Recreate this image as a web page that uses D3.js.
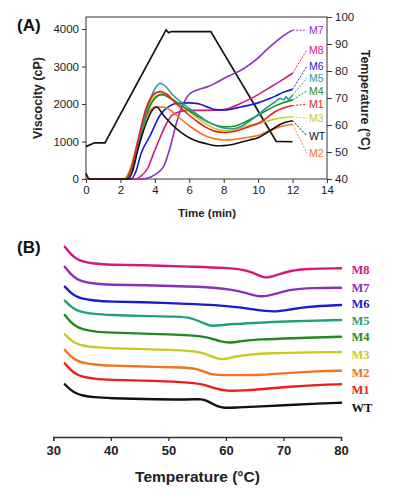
<!DOCTYPE html>
<html>
<head>
<meta charset="utf-8">
<script src="https://cdn.jsdelivr.net/npm/d3@7"></script>
<style>
  body { margin: 0; background: #fff; }
  svg { display: block; font-family: "Liberation Sans", Arial, sans-serif; }
</style>
</head>
<body>
<svg id="chart" width="397" height="493"></svg>
<script>
// ---- panel A: RVA pasting profiles (time in min, viscosity in cP) ----
const names = ["WT", "M1", "M2", "M3", "M4", "M5", "M6", "M7", "M8"];
const colorsA = ["#111111", "#ee1c1c", "#f47321", "#c9c923", "#1f8a1f", "#2b9ba3", "#1a1ad0", "#8a2fbe", "#d4197a"];
const colorsB = ["#111111", "#ee1c1c", "#f47321", "#c9c923", "#1f8a1f", "#22a07c", "#1a1ad0", "#8a2fbe", "#d4197a"];

const wtVisc = [[0,150],[0.2,0],[2.4,0],[2.7,200],[3,750],[3.5,1500],[3.8,1800],[4.1,1920],[4.5,1700],[5,1450],[5.5,1250],[6,1100],[6.5,1000],[7,940],[7.6,885],[8,890],[8.5,920],[9,980],[9.5,1040],[10,1100],[10.5,1230],[11,1380],[11.5,1500],[12,1555]];
const m1Visc = [[0,0],[2.3,0],[2.6,250],[3,1000],[3.5,1900],[4,2280],[4.3,2330],[4.7,2260],[5,2120],[5.5,1900],[6,1700],[6.5,1520],[7,1370],[7.5,1270],[8,1240],[8.5,1260],[9,1320],[9.5,1400],[10,1480],[10.5,1630],[11,1800],[11.5,1900],[12,1960]];
const m2Visc = [[0,0],[2.3,0],[2.6,220],[3,900],[3.5,1650],[4,1920],[4.5,1920],[5,1800],[5.5,1600],[6,1420],[6.5,1260],[7,1140],[7.5,1070],[8,1040],[8.5,1050],[9,1080],[9.5,1120],[10,1160],[10.5,1260],[11,1350],[11.5,1420],[12,1460]];
const m3Visc = [[0,0],[2.2,0],[2.5,200],[3,950],[3.5,1800],[4,2200],[4.5,2270],[5,2150],[5.5,1970],[6,1790],[6.5,1610],[7,1460],[7.5,1340],[8,1290],[8.5,1300],[9,1360],[9.5,1430],[10,1480],[10.5,1540],[11,1600],[11.5,1640],[12,1660]];
const m4Visc = [[0,0],[2.3,0],[2.6,200],[3,850],[3.5,1700],[4,2150],[4.4,2250],[5,2120],[5.5,1970],[6,1820],[6.5,1670],[7,1540],[7.5,1440],[8,1395],[8.5,1400],[9,1470],[9.5,1580],[10,1700],[10.5,1830],[11,1950],[11.5,2040],[12,2110]];
const m5Visc = [[0,0],[2.3,0],[2.6,200],[3,900],[3.5,1800],[4,2400],[4.3,2550],[4.6,2480],[5,2260],[5.5,2060],[6,1880],[6.5,1710],[7,1550],[7.5,1430],[8,1360],[8.5,1340],[9,1400],[9.5,1540],[10,1720],[10.5,1900],[11,2060],[11.3,2150],[11.5,2110],[11.6,2190],[11.75,2130],[12,2240]];
const m6Visc = [[0,0],[2.6,0],[2.9,200],[3.2,680],[3.7,1130],[4.3,1700],[4.8,1930],[5.3,2020],[6,2030],[6.5,2010],[7,1930],[7.5,1850],[8,1840],[8.5,1870],[9,1920],[9.5,1970],[10,2030],[10.5,2120],[11,2210],[11.5,2320],[12,2390]];
const m7Visc = [[0,0],[3.2,0],[3.8,60],[4.2,180],[4.5,330],[4.9,860],[5.3,1570],[5.7,2050],[6,2260],[6.5,2380],[7,2450],[7.5,2550],[8,2680],[8.5,2790],[9,2900],[9.5,3050],[10,3230],[10.5,3450],[11,3650],[11.5,3830],[12,3970]];
const m8Visc = [[0,0],[2.8,0],[3.2,80],[3.6,300],[3.9,650],[4.3,1100],[4.7,1500],[5,1700],[5.5,1800],[6,1830],[7,1830],[8,1850],[8.5,1920],[9,2020],[9.5,2130],[10,2250],[10.5,2390],[11,2530],[11.5,2670],[12,2820]];
const viscSeries = [wtVisc, m1Visc, m2Visc, m3Visc, m4Visc, m5Visc, m6Visc, m7Visc, m8Visc];

// temperature program (right axis, degC)
const tempProfile = [[0,52],[0.5,53.4],[1.1,53.4],[4.65,95.2],[4.8,94.2],[4.95,94.6],[7.25,94.6],[11.05,53.9],[12,53.8]];

// where the end labels sit, in viscosity units
const labelViscA = [1150, 1990, 690, 1620, 2350, 2690, 3010, 3970, 3440];

const timeTicks = [0, 2, 4, 6, 8, 10, 12, 14];
const viscTicks = [0, 1000, 2000, 3000, 4000];
const tempTicks = [40, 50, 60, 70, 80, 90, 100];

// ---- panel B: DSC thermograms (temperature degC, heat flow a.u., stacked) ----
const wtDsc = [[32,52.7],[33,47],[34,43.5],[35,41.5],[37,39.7],[40,38.7],[45,38],[54,37.3],[55.8,38.2],[57,35.5],[58.5,30.5],[59.6,28.8],[62,29.6],[66,30.5],[71,32],[76,33.5],[80,34.3]];
const m1Dsc = [[32,73.7],[33,67],[34,62.7],[35,60.3],[37,58.2],[40,57],[45,56.5],[53,55],[56,53],[58,48.5],[60.2,45.8],[63,46.5],[67,48.2],[71,50.3],[76,52],[80,52.7]];
const m2Dsc = [[32,87],[33,80.7],[34,76.6],[35,74.4],[37,72.4],[40,71.3],[45,70.5],[53,69.5],[55,68.5],[57.3,62.2],[60,61.8],[66.5,61.8],[71,64.3],[76,65.8],[80,66.3]];
const m3Dsc = [[32,102.7],[33,97],[34,93.5],[35,91.5],[37,89.7],[40,88.7],[45,88],[54,86.5],[56,84.5],[58,79],[59.5,77],[61.5,80.5],[64,82.5],[68,83.8],[72,84.4],[80,85]];
const m4Dsc = [[32,122],[33,115],[34,110.3],[35,107.8],[37,105.5],[40,104.3],[45,103.5],[54,102],[57,99.8],[59,95.5],[60.6,93.8],[63,96.3],[66,97.7],[71,98.7],[80,100.3]];
const m5Dsc = [[32,136.3],[33,130.6],[34,126.9],[35,124.9],[37,123],[40,122],[45,121],[52,120.5],[54,119],[55.5,115.5],[57.3,110.5],[59,111.7],[61,113],[66,114.3],[71,115.8],[80,117]];
const m6Dsc = [[32,150.3],[33,144.3],[34,140.4],[35,138.3],[37,136.3],[40,135.3],[45,135],[54,133],[58,132],[62,130],[65,127.3],[68.3,124.8],[71,127.3],[74,130.3],[80,132]];
const m7Dsc = [[32,170.3],[33,163],[34,158.2],[35,155.6],[37,153.3],[40,152],[45,152],[54,150.3],[58,149.5],[61,147.5],[64,143.3],[66.2,139.5],[68.5,142.8],[71.2,147.7],[75,149],[80,149.3]];
const m8Dsc = [[32,190.3],[33,183],[34,178.2],[35,175.6],[37,173.3],[40,172],[45,172],[54,170.3],[60,169.3],[63.6,167],[65.5,162.3],[67,158.2],[69,162.3],[71.2,166.3],[74,168.3],[80,168.7]];
const dscSeries = [wtDsc, m1Dsc, m2Dsc, m3Dsc, m4Dsc, m5Dsc, m6Dsc, m7Dsc, m8Dsc];
const labelDscB = [29.7, 47.3, 64.3, 82.7, 100.3, 117, 133.3, 150, 168];
const dscTicks = [30, 40, 50, 60, 70, 80];

const svg = d3.select("#chart");
const axisColor = "#333";

drawPanelA();
drawPanelB();

function styleAxis(g, fontSize, bold) {
    g.selectAll(".domain").remove();
    g.selectAll("line").attr("stroke", axisColor).attr("stroke-width", 1);
    g.selectAll("text")
        .attr("fill", "#222")
        .attr("font-size", fontSize)
        .attr("font-weight", bold ? "bold" : "normal");
}

function drawPanelA() {
    const x = d3.scaleLinear().domain([0, 14]).range([86, 327]);
    const yV = d3.scaleLinear().domain([0, 4320]).range([179, 17]);
    const yT = d3.scaleLinear().domain([40, 100]).range([179, 17]);

    const g = svg.append("g");

    // frame
    g.append("rect")
        .attr("x", x(0)).attr("y", yT(100))
        .attr("width", x(14) - x(0)).attr("height", yT(40) - yT(100))
        .attr("fill", "none").attr("stroke", axisColor).attr("stroke-width", 1);

    const ax = g.append("g").attr("transform", `translate(0,${yV(0)})`)
        .call(d3.axisBottom(x).tickValues(timeTicks).tickSize(4).tickPadding(3));
    styleAxis(ax, 11.5, false);

    const ayl = g.append("g").attr("transform", `translate(${x(0)},0)`)
        .call(d3.axisLeft(yV).tickValues(viscTicks).tickFormat(d3.format("d")).tickSize(4).tickPadding(3));
    styleAxis(ayl, 11.5, false);

    const ayr = g.append("g").attr("transform", `translate(${x(14)},0)`)
        .call(d3.axisRight(yT).tickValues(tempTicks).tickSize(5).tickPadding(3));
    styleAxis(ayr, 11.5, false);

    const viscLine = d3.line()
        .x(d => x(d[0]))
        .y(d => yV(d[1]))
        .curve(d3.curveMonotoneX);

    const tempLine = d3.line()
        .x(d => x(d[0]))
        .y(d => yT(d[1]));

    g.append("path")
        .attr("d", tempLine(tempProfile))
        .attr("fill", "none")
        .attr("stroke", "#111")
        .attr("stroke-width", 1.7);

    // draw back to front like the original: purple, magenta, blue ... black
    const order = [7, 8, 6, 2, 3, 4, 5, 1, 0];
    order.forEach(i => {
        g.append("path")
            .attr("d", viscLine(viscSeries[i]))
            .attr("fill", "none")
            .attr("stroke", colorsA[i])
            .attr("stroke-width", 1.6);
    });

    // dotted leaders and labels
    const labelX = x(12.95);
    names.forEach((name, i) => {
        const last = viscSeries[i][viscSeries[i].length - 1];
        g.append("line")
            .attr("x1", x(last[0])).attr("y1", yV(last[1]))
            .attr("x2", labelX - 2).attr("y2", yV(labelViscA[i]))
            .attr("stroke", colorsA[i])
            .attr("stroke-width", 1)
            .attr("stroke-dasharray", "2,1.5");
        g.append("text")
            .attr("x", labelX)
            .attr("y", yV(labelViscA[i]))
            .attr("dy", "0.36em")
            .attr("fill", colorsA[i])
            .attr("font-size", 10.5)
            .text(name);
    });

    g.append("text")
        .attr("transform", `translate(42,98) rotate(-90)`)
        .attr("text-anchor", "middle")
        .attr("font-size", 12.5)
        .attr("font-weight", "bold")
        .attr("fill", "#222")
        .text("Viscocity (cP)");

    g.append("text")
        .attr("transform", `translate(361,100) rotate(90)`)
        .attr("text-anchor", "middle")
        .attr("font-size", 12.5)
        .attr("font-weight", "bold")
        .attr("fill", "#222")
        .text("Temperature (°C)");

    g.append("text")
        .attr("x", 207)
        .attr("y", 217)
        .attr("text-anchor", "middle")
        .attr("font-size", 11.5)
        .attr("font-weight", "bold")
        .attr("fill", "#222")
        .text("Time (min)");

    g.append("text")
        .attr("x", 17)
        .attr("y", 31)
        .attr("font-size", 17)
        .attr("font-weight", "bold")
        .attr("fill", "#111")
        .text("(A)");
}

function drawPanelB() {
    const x = d3.scaleLinear().domain([30, 80]).range([53.3, 341]);
    const y = d3.scaleLinear().domain([0, 200]).range([437, 237]);

    const g = svg.append("g");

    const ax = g.append("g").attr("transform", `translate(0,${y(0)})`)
        .call(d3.axisBottom(x).tickValues(dscTicks).tickSize(4).tickPadding(5));
    ax.select(".domain").attr("stroke", axisColor).attr("stroke-width", 1.3);
    ax.selectAll("line").attr("stroke", axisColor).attr("stroke-width", 1.3);
    ax.selectAll("text")
        .attr("fill", "#222")
        .attr("font-size", 13)
        .attr("font-weight", "bold");

    const line = d3.line()
        .x(d => x(d[0]))
        .y(d => y(d[1]))
        .curve(d3.curveBasis);

    dscSeries.forEach((series, i) => {
        g.append("path")
            .attr("d", line(series))
            .attr("fill", "none")
            .attr("stroke", colorsB[i])
            .attr("stroke-width", 2.4)
            .attr("stroke-linecap", "round");

        g.append("text")
            .attr("x", 351.5)
            .attr("y", y(labelDscB[i]))
            .attr("dy", "0.36em")
            .attr("fill", colorsB[i])
            .attr("font-family", "'Liberation Serif', 'Times New Roman', serif")
            .attr("font-size", 12.5)
            .attr("font-weight", "bold")
            .text(names[i]);
    });

    g.append("text")
        .attr("x", 197.5)
        .attr("y", 482)
        .attr("text-anchor", "middle")
        .attr("font-size", 15.5)
        .attr("font-weight", "bold")
        .attr("fill", "#222")
        .text("Temperature (°C)");

    g.append("text")
        .attr("x", 17)
        .attr("y", 253)
        .attr("font-size", 17)
        .attr("font-weight", "bold")
        .attr("fill", "#111")
        .text("(B)");
}
</script>
</body>
</html>
